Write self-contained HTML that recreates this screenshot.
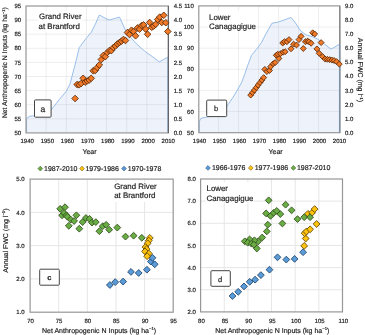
<!DOCTYPE html>
<html><head><meta charset="utf-8"><title>Figure</title>
<style>
html,body{margin:0;padding:0;background:#fff;width:365px;height:335px;overflow:hidden}
svg{display:block;font-family:"Liberation Sans", sans-serif;will-change:transform;text-rendering:geometricPrecision}
text{stroke:#222;stroke-width:0.18px}
</style></head><body>
<svg width="365" height="335" viewBox="0 0 365 335">
<rect width="365" height="335" fill="#fff"/>
<polygon points="26.60,132.40 26.60,118.30 29.50,116.30 33.50,115.80 40.00,114.00 46.00,112.00 51.50,109.50 59.10,99.70 66.30,91.30 69.90,84.20 74.70,66.30 79.30,47.50 86.10,38.40 91.30,32.20 95.50,23.80 99.30,15.00 103.90,17.50 109.10,20.00 114.30,18.60 119.50,17.10 124.90,29.00 129.80,36.40 136.40,43.80 144.60,51.10 152.80,56.90 159.30,61.80 167.80,57.20 167.80,132.40" fill="#eef3fb" stroke="none"/>
<line x1="26.00" y1="118.80" x2="168.40" y2="118.80" stroke="rgba(0,0,0,0.065)" stroke-width="1"/>
<line x1="26.00" y1="104.70" x2="168.40" y2="104.70" stroke="rgba(0,0,0,0.065)" stroke-width="1"/>
<line x1="26.00" y1="90.60" x2="168.40" y2="90.60" stroke="rgba(0,0,0,0.065)" stroke-width="1"/>
<line x1="26.00" y1="76.50" x2="168.40" y2="76.50" stroke="rgba(0,0,0,0.065)" stroke-width="1"/>
<line x1="26.00" y1="62.40" x2="168.40" y2="62.40" stroke="rgba(0,0,0,0.065)" stroke-width="1"/>
<line x1="26.00" y1="48.30" x2="168.40" y2="48.30" stroke="rgba(0,0,0,0.065)" stroke-width="1"/>
<line x1="26.00" y1="34.20" x2="168.40" y2="34.20" stroke="rgba(0,0,0,0.065)" stroke-width="1"/>
<line x1="26.00" y1="20.10" x2="168.40" y2="20.10" stroke="rgba(0,0,0,0.065)" stroke-width="1"/>
<line x1="46.15" y1="6.00" x2="46.15" y2="132.90" stroke="rgba(0,0,0,0.065)" stroke-width="1"/>
<line x1="66.30" y1="6.00" x2="66.30" y2="132.90" stroke="rgba(0,0,0,0.065)" stroke-width="1"/>
<line x1="86.45" y1="6.00" x2="86.45" y2="132.90" stroke="rgba(0,0,0,0.065)" stroke-width="1"/>
<line x1="106.60" y1="6.00" x2="106.60" y2="132.90" stroke="rgba(0,0,0,0.065)" stroke-width="1"/>
<line x1="126.75" y1="6.00" x2="126.75" y2="132.90" stroke="rgba(0,0,0,0.065)" stroke-width="1"/>
<line x1="146.90" y1="6.00" x2="146.90" y2="132.90" stroke="rgba(0,0,0,0.065)" stroke-width="1"/>
<polyline points="26.60,132.40 26.60,118.30 29.50,116.30 33.50,115.80 40.00,114.00 46.00,112.00 51.50,109.50 59.10,99.70 66.30,91.30 69.90,84.20 74.70,66.30 79.30,47.50 86.10,38.40 91.30,32.20 95.50,23.80 99.30,15.00 103.90,17.50 109.10,20.00 114.30,18.60 119.50,17.10 124.90,29.00 129.80,36.40 136.40,43.80 144.60,51.10 152.80,56.90 159.30,61.80 167.80,57.20 167.80,132.40" fill="none" stroke="#8fb8e6" stroke-width="0.9"/>
<rect x="37.5" y="11.2" width="45.1" height="20.2" fill="#fff"/>
<rect x="26.00" y="6.00" width="142.40" height="126.90" fill="none" stroke="#979797" stroke-width="1.2"/>
<line x1="168.40" y1="6.00" x2="168.40" y2="132.90" stroke="#62666b" stroke-width="1.2"/>
<text x="21.20" y="8.15" font-size="6" text-anchor="end" fill="#1a1a1a" >95</text>
<text x="173.70" y="8.15" font-size="6" text-anchor="start" fill="#1a1a1a" >4.5</text>
<text x="21.20" y="22.25" font-size="6" text-anchor="end" fill="#1a1a1a" >90</text>
<text x="173.70" y="22.25" font-size="6" text-anchor="start" fill="#1a1a1a" >4.0</text>
<text x="21.20" y="36.35" font-size="6" text-anchor="end" fill="#1a1a1a" >85</text>
<text x="173.70" y="36.35" font-size="6" text-anchor="start" fill="#1a1a1a" >3.5</text>
<text x="21.20" y="50.45" font-size="6" text-anchor="end" fill="#1a1a1a" >80</text>
<text x="173.70" y="50.45" font-size="6" text-anchor="start" fill="#1a1a1a" >3.0</text>
<text x="21.20" y="64.55" font-size="6" text-anchor="end" fill="#1a1a1a" >75</text>
<text x="173.70" y="64.55" font-size="6" text-anchor="start" fill="#1a1a1a" >2.5</text>
<text x="21.20" y="78.65" font-size="6" text-anchor="end" fill="#1a1a1a" >70</text>
<text x="173.70" y="78.65" font-size="6" text-anchor="start" fill="#1a1a1a" >2.0</text>
<text x="21.20" y="92.75" font-size="6" text-anchor="end" fill="#1a1a1a" >65</text>
<text x="173.70" y="92.75" font-size="6" text-anchor="start" fill="#1a1a1a" >1.5</text>
<text x="21.20" y="106.85" font-size="6" text-anchor="end" fill="#1a1a1a" >60</text>
<text x="173.70" y="106.85" font-size="6" text-anchor="start" fill="#1a1a1a" >1.0</text>
<text x="21.20" y="120.95" font-size="6" text-anchor="end" fill="#1a1a1a" >55</text>
<text x="173.70" y="120.95" font-size="6" text-anchor="start" fill="#1a1a1a" >0.5</text>
<text x="21.20" y="135.05" font-size="6" text-anchor="end" fill="#1a1a1a" >50</text>
<text x="173.70" y="135.05" font-size="6" text-anchor="start" fill="#1a1a1a" >0.0</text>
<text x="27.20" y="142.95" font-size="6" text-anchor="middle" fill="#1a1a1a" >1940</text>
<text x="47.35" y="142.95" font-size="6" text-anchor="middle" fill="#1a1a1a" >1950</text>
<text x="67.50" y="142.95" font-size="6" text-anchor="middle" fill="#1a1a1a" >1960</text>
<text x="87.65" y="142.95" font-size="6" text-anchor="middle" fill="#1a1a1a" >1970</text>
<text x="107.80" y="142.95" font-size="6" text-anchor="middle" fill="#1a1a1a" >1980</text>
<text x="127.95" y="142.95" font-size="6" text-anchor="middle" fill="#1a1a1a" >1990</text>
<text x="148.10" y="142.95" font-size="6" text-anchor="middle" fill="#1a1a1a" >2000</text>
<text x="168.25" y="142.95" font-size="6" text-anchor="middle" fill="#1a1a1a" >2010</text>
<text x="89.50" y="154.00" font-size="7" text-anchor="middle" fill="#1a1a1a" >Year</text>
<text transform="translate(7.3,118.1) rotate(-90)" font-size="6.8" fill="#1a1a1a">Net Anthropogenic N Inputs (kg ha<tspan font-size="4.1" dy="-2.5">−1</tspan><tspan dy="2.5">)</tspan></text>
<text x="39.00" y="19.20" font-size="7.9" text-anchor="start" fill="#1a1a1a" >Grand River</text>
<text x="38.60" y="28.50" font-size="7.9" text-anchor="start" fill="#1a1a1a" >at Brantford</text>
<rect x="34.5" y="99.9" width="16.6" height="17.3" rx="1" fill="#fff" stroke="#444444" stroke-width="1"/>
<text x="42.90" y="111.70" font-size="8.5" text-anchor="middle" fill="#1a1a1a" >a</text>
<path d="M75.10 95.20L78.40 98.50L75.10 101.80L71.80 98.50Z" fill="#f07a28" stroke="#5a2806" stroke-width="0.85"/>
<path d="M77.11 81.20L80.41 84.50L77.11 87.80L73.81 84.50Z" fill="#f07a28" stroke="#5a2806" stroke-width="0.85"/>
<path d="M79.13 81.50L82.43 84.80L79.13 88.10L75.83 84.80Z" fill="#f07a28" stroke="#5a2806" stroke-width="0.85"/>
<path d="M81.14 80.20L84.44 83.50L81.14 86.80L77.84 83.50Z" fill="#f07a28" stroke="#5a2806" stroke-width="0.85"/>
<path d="M83.16 75.00L86.46 78.30L83.16 81.60L79.86 78.30Z" fill="#f07a28" stroke="#5a2806" stroke-width="0.85"/>
<path d="M85.17 78.80L88.47 82.10L85.17 85.40L81.88 82.10Z" fill="#f07a28" stroke="#5a2806" stroke-width="0.85"/>
<path d="M87.19 77.70L90.49 81.00L87.19 84.30L83.89 81.00Z" fill="#f07a28" stroke="#5a2806" stroke-width="0.85"/>
<path d="M89.20 76.70L92.50 80.00L89.20 83.30L85.91 80.00Z" fill="#f07a28" stroke="#5a2806" stroke-width="0.85"/>
<path d="M91.22 75.00L94.52 78.30L91.22 81.60L87.92 78.30Z" fill="#f07a28" stroke="#5a2806" stroke-width="0.85"/>
<path d="M93.23 67.50L96.53 70.80L93.23 74.10L89.94 70.80Z" fill="#f07a28" stroke="#5a2806" stroke-width="0.85"/>
<path d="M95.25 67.20L98.55 70.50L95.25 73.80L91.95 70.50Z" fill="#f07a28" stroke="#5a2806" stroke-width="0.85"/>
<path d="M97.27 64.20L100.56 67.50L97.27 70.80L93.97 67.50Z" fill="#f07a28" stroke="#5a2806" stroke-width="0.85"/>
<path d="M99.28 61.70L102.58 65.00L99.28 68.30L95.98 65.00Z" fill="#f07a28" stroke="#5a2806" stroke-width="0.85"/>
<path d="M101.29 56.20L104.59 59.50L101.29 62.80L97.99 59.50Z" fill="#f07a28" stroke="#5a2806" stroke-width="0.85"/>
<path d="M103.31 52.20L106.61 55.50L103.31 58.80L100.01 55.50Z" fill="#f07a28" stroke="#5a2806" stroke-width="0.85"/>
<path d="M105.32 53.30L108.62 56.60L105.32 59.90L102.02 56.60Z" fill="#f07a28" stroke="#5a2806" stroke-width="0.85"/>
<path d="M107.34 49.20L110.64 52.50L107.34 55.80L104.04 52.50Z" fill="#f07a28" stroke="#5a2806" stroke-width="0.85"/>
<path d="M109.35 47.30L112.65 50.60L109.35 53.90L106.05 50.60Z" fill="#f07a28" stroke="#5a2806" stroke-width="0.85"/>
<path d="M111.37 47.30L114.67 50.60L111.37 53.90L108.07 50.60Z" fill="#f07a28" stroke="#5a2806" stroke-width="0.85"/>
<path d="M113.38 44.20L116.68 47.50L113.38 50.80L110.08 47.50Z" fill="#f07a28" stroke="#5a2806" stroke-width="0.85"/>
<path d="M115.40 42.70L118.70 46.00L115.40 49.30L112.10 46.00Z" fill="#f07a28" stroke="#5a2806" stroke-width="0.85"/>
<path d="M117.41 40.70L120.71 44.00L117.41 47.30L114.11 44.00Z" fill="#f07a28" stroke="#5a2806" stroke-width="0.85"/>
<path d="M119.43 39.20L122.73 42.50L119.43 45.80L116.13 42.50Z" fill="#f07a28" stroke="#5a2806" stroke-width="0.85"/>
<path d="M121.44 37.90L124.74 41.20L121.44 44.50L118.14 41.20Z" fill="#f07a28" stroke="#5a2806" stroke-width="0.85"/>
<path d="M123.46 36.20L126.76 39.50L123.46 42.80L120.16 39.50Z" fill="#f07a28" stroke="#5a2806" stroke-width="0.85"/>
<path d="M125.47 37.20L128.78 40.50L125.47 43.80L122.17 40.50Z" fill="#f07a28" stroke="#5a2806" stroke-width="0.85"/>
<path d="M127.49 29.20L130.79 32.50L127.49 35.80L124.19 32.50Z" fill="#f07a28" stroke="#5a2806" stroke-width="0.85"/>
<path d="M129.50 31.20L132.81 34.50L129.50 37.80L126.20 34.50Z" fill="#f07a28" stroke="#5a2806" stroke-width="0.85"/>
<path d="M131.52 26.90L134.82 30.20L131.52 33.50L128.22 30.20Z" fill="#f07a28" stroke="#5a2806" stroke-width="0.85"/>
<path d="M133.53 28.20L136.84 31.50L133.53 34.80L130.23 31.50Z" fill="#f07a28" stroke="#5a2806" stroke-width="0.85"/>
<path d="M135.55 32.50L138.85 35.80L135.55 39.10L132.25 35.80Z" fill="#f07a28" stroke="#5a2806" stroke-width="0.85"/>
<path d="M137.56 24.60L140.87 27.90L137.56 31.20L134.26 27.90Z" fill="#f07a28" stroke="#5a2806" stroke-width="0.85"/>
<path d="M139.58 25.80L142.88 29.10L139.58 32.40L136.28 29.10Z" fill="#f07a28" stroke="#5a2806" stroke-width="0.85"/>
<path d="M141.59 22.20L144.90 25.50L141.59 28.80L138.29 25.50Z" fill="#f07a28" stroke="#5a2806" stroke-width="0.85"/>
<path d="M143.61 21.60L146.91 24.90L143.61 28.20L140.31 24.90Z" fill="#f07a28" stroke="#5a2806" stroke-width="0.85"/>
<path d="M145.62 25.80L148.93 29.10L145.62 32.40L142.32 29.10Z" fill="#f07a28" stroke="#5a2806" stroke-width="0.85"/>
<path d="M147.64 31.00L150.94 34.30L147.64 37.60L144.34 34.30Z" fill="#f07a28" stroke="#5a2806" stroke-width="0.85"/>
<path d="M149.66 19.20L152.96 22.50L149.66 25.80L146.35 22.50Z" fill="#f07a28" stroke="#5a2806" stroke-width="0.85"/>
<path d="M151.67 24.00L154.97 27.30L151.67 30.60L148.37 27.30Z" fill="#f07a28" stroke="#5a2806" stroke-width="0.85"/>
<path d="M153.69 22.80L156.99 26.10L153.69 29.40L150.38 26.10Z" fill="#f07a28" stroke="#5a2806" stroke-width="0.85"/>
<path d="M155.70 21.00L159.00 24.30L155.70 27.60L152.40 24.30Z" fill="#f07a28" stroke="#5a2806" stroke-width="0.85"/>
<path d="M157.72 16.20L161.02 19.50L157.72 22.80L154.41 19.50Z" fill="#f07a28" stroke="#5a2806" stroke-width="0.85"/>
<path d="M159.73 13.80L163.03 17.10L159.73 20.40L156.43 17.10Z" fill="#f07a28" stroke="#5a2806" stroke-width="0.85"/>
<path d="M161.75 19.20L165.05 22.50L161.75 25.80L158.44 22.50Z" fill="#f07a28" stroke="#5a2806" stroke-width="0.85"/>
<path d="M163.76 12.00L167.06 15.30L163.76 18.60L160.46 15.30Z" fill="#f07a28" stroke="#5a2806" stroke-width="0.85"/>
<path d="M165.78 19.40L169.08 22.70L165.78 26.00L162.47 22.70Z" fill="#f07a28" stroke="#5a2806" stroke-width="0.85"/>
<path d="M167.79 28.20L171.09 31.50L167.79 34.80L164.49 31.50Z" fill="#f07a28" stroke="#5a2806" stroke-width="0.85"/>
<polygon points="199.30,132.40 199.30,121.50 200.90,118.30 205.80,117.30 212.00,115.80 219.00,113.80 226.70,106.60 232.00,98.80 236.80,91.10 241.70,82.30 244.60,74.60 247.50,65.80 251.60,55.20 256.10,49.80 261.50,42.60 266.00,33.70 271.90,23.30 278.50,22.00 284.80,19.70 291.00,17.50 294.80,22.00 300.80,31.10 306.10,34.90 312.90,36.80 318.10,39.40 324.20,43.90 331.00,49.20 339.40,44.30 339.40,132.40" fill="#eef3fb" stroke="none"/>
<line x1="198.80" y1="111.57" x2="339.80" y2="111.57" stroke="rgba(0,0,0,0.065)" stroke-width="1"/>
<line x1="198.80" y1="90.43" x2="339.80" y2="90.43" stroke="rgba(0,0,0,0.065)" stroke-width="1"/>
<line x1="198.80" y1="69.30" x2="339.80" y2="69.30" stroke="rgba(0,0,0,0.065)" stroke-width="1"/>
<line x1="198.80" y1="48.17" x2="339.80" y2="48.17" stroke="rgba(0,0,0,0.065)" stroke-width="1"/>
<line x1="198.80" y1="27.03" x2="339.80" y2="27.03" stroke="rgba(0,0,0,0.065)" stroke-width="1"/>
<line x1="218.60" y1="5.90" x2="218.60" y2="132.70" stroke="rgba(0,0,0,0.065)" stroke-width="1"/>
<line x1="238.60" y1="5.90" x2="238.60" y2="132.70" stroke="rgba(0,0,0,0.065)" stroke-width="1"/>
<line x1="258.60" y1="5.90" x2="258.60" y2="132.70" stroke="rgba(0,0,0,0.065)" stroke-width="1"/>
<line x1="278.60" y1="5.90" x2="278.60" y2="132.70" stroke="rgba(0,0,0,0.065)" stroke-width="1"/>
<line x1="298.60" y1="5.90" x2="298.60" y2="132.70" stroke="rgba(0,0,0,0.065)" stroke-width="1"/>
<line x1="318.60" y1="5.90" x2="318.60" y2="132.70" stroke="rgba(0,0,0,0.065)" stroke-width="1"/>
<polyline points="199.30,132.40 199.30,121.50 200.90,118.30 205.80,117.30 212.00,115.80 219.00,113.80 226.70,106.60 232.00,98.80 236.80,91.10 241.70,82.30 244.60,74.60 247.50,65.80 251.60,55.20 256.10,49.80 261.50,42.60 266.00,33.70 271.90,23.30 278.50,22.00 284.80,19.70 291.00,17.50 294.80,22.00 300.80,31.10 306.10,34.90 312.90,36.80 318.10,39.40 324.20,43.90 331.00,49.20 339.40,44.30 339.40,132.40" fill="none" stroke="#8fb8e6" stroke-width="0.9"/>
<rect x="207.6" y="11.2" width="48.9" height="20.2" fill="#fff"/>
<rect x="198.80" y="5.90" width="141.00" height="126.80" fill="none" stroke="#979797" stroke-width="1.2"/>
<line x1="339.80" y1="5.90" x2="339.80" y2="132.70" stroke="#858585" stroke-width="1.2"/>
<line x1="339.60" y1="44.30" x2="339.60" y2="132.70" stroke="#7b93b3" stroke-width="0.9"/>
<text x="193.80" y="8.05" font-size="6" text-anchor="end" fill="#1a1a1a" >110</text>
<text x="193.80" y="29.18" font-size="6" text-anchor="end" fill="#1a1a1a" >100</text>
<text x="193.80" y="50.31" font-size="6" text-anchor="end" fill="#1a1a1a" >90</text>
<text x="193.80" y="71.45" font-size="6" text-anchor="end" fill="#1a1a1a" >80</text>
<text x="193.80" y="92.58" font-size="6" text-anchor="end" fill="#1a1a1a" >70</text>
<text x="193.80" y="113.71" font-size="6" text-anchor="end" fill="#1a1a1a" >60</text>
<text x="193.80" y="134.85" font-size="6" text-anchor="end" fill="#1a1a1a" >50</text>
<text x="344.90" y="8.05" font-size="6" text-anchor="start" fill="#1a1a1a" >9.0</text>
<text x="344.90" y="22.14" font-size="6" text-anchor="start" fill="#1a1a1a" >8.0</text>
<text x="344.90" y="36.23" font-size="6" text-anchor="start" fill="#1a1a1a" >7.0</text>
<text x="344.90" y="50.31" font-size="6" text-anchor="start" fill="#1a1a1a" >6.0</text>
<text x="344.90" y="64.40" font-size="6" text-anchor="start" fill="#1a1a1a" >5.0</text>
<text x="344.90" y="78.49" font-size="6" text-anchor="start" fill="#1a1a1a" >4.0</text>
<text x="344.90" y="92.58" font-size="6" text-anchor="start" fill="#1a1a1a" >3.0</text>
<text x="344.90" y="106.67" font-size="6" text-anchor="start" fill="#1a1a1a" >2.0</text>
<text x="344.90" y="120.76" font-size="6" text-anchor="start" fill="#1a1a1a" >1.0</text>
<text x="344.90" y="134.85" font-size="6" text-anchor="start" fill="#1a1a1a" >0.0</text>
<text x="199.50" y="142.95" font-size="6" text-anchor="middle" fill="#1a1a1a" >1940</text>
<text x="219.50" y="142.95" font-size="6" text-anchor="middle" fill="#1a1a1a" >1950</text>
<text x="239.50" y="142.95" font-size="6" text-anchor="middle" fill="#1a1a1a" >1960</text>
<text x="259.50" y="142.95" font-size="6" text-anchor="middle" fill="#1a1a1a" >1970</text>
<text x="279.50" y="142.95" font-size="6" text-anchor="middle" fill="#1a1a1a" >1980</text>
<text x="299.50" y="142.95" font-size="6" text-anchor="middle" fill="#1a1a1a" >1990</text>
<text x="319.50" y="142.95" font-size="6" text-anchor="middle" fill="#1a1a1a" >2000</text>
<text x="339.50" y="142.95" font-size="6" text-anchor="middle" fill="#1a1a1a" >2010</text>
<text x="275.60" y="154.00" font-size="7" text-anchor="middle" fill="#1a1a1a" >Year</text>
<text transform="translate(357.6,37.8) rotate(90)" font-size="7" fill="#1a1a1a">Annual FWC (mg l<tspan font-size="4.2" dy="-2.6">−1</tspan><tspan dy="2.6">)</tspan></text>
<text x="209.00" y="19.50" font-size="7.9" text-anchor="start" fill="#1a1a1a" >Lower</text>
<text x="209.00" y="29.00" font-size="7.9" text-anchor="start" fill="#1a1a1a" >Canagagigue</text>
<rect x="206.7" y="100.1" width="20.0" height="16.5" rx="1" fill="#fff" stroke="#444444" stroke-width="1"/>
<text x="216.10" y="111.20" font-size="7.5" text-anchor="middle" fill="#1a1a1a" >b</text>
<path d="M250.70 92.15L253.65 95.10L250.70 98.05L247.75 95.10Z" fill="#f07a28" stroke="#5a2806" stroke-width="0.85"/>
<path d="M252.60 89.65L255.55 92.60L252.60 95.55L249.65 92.60Z" fill="#f07a28" stroke="#5a2806" stroke-width="0.85"/>
<path d="M254.40 87.15L257.35 90.10L254.40 93.05L251.45 90.10Z" fill="#f07a28" stroke="#5a2806" stroke-width="0.85"/>
<path d="M256.30 84.65L259.25 87.60L256.30 90.55L253.35 87.60Z" fill="#f07a28" stroke="#5a2806" stroke-width="0.85"/>
<path d="M258.10 82.15L261.05 85.10L258.10 88.05L255.15 85.10Z" fill="#f07a28" stroke="#5a2806" stroke-width="0.85"/>
<path d="M260.00 79.65L262.95 82.60L260.00 85.55L257.05 82.60Z" fill="#f07a28" stroke="#5a2806" stroke-width="0.85"/>
<path d="M261.90 77.15L264.85 80.10L261.90 83.05L258.95 80.10Z" fill="#f07a28" stroke="#5a2806" stroke-width="0.85"/>
<path d="M263.70 74.65L266.65 77.60L263.70 80.55L260.75 77.60Z" fill="#f07a28" stroke="#5a2806" stroke-width="0.85"/>
<path d="M264.80 66.45L267.75 69.40L264.80 72.35L261.85 69.40Z" fill="#f07a28" stroke="#5a2806" stroke-width="0.85"/>
<path d="M266.90 68.55L269.85 71.50L266.90 74.45L263.95 71.50Z" fill="#f07a28" stroke="#5a2806" stroke-width="0.85"/>
<path d="M269.50 67.55L272.45 70.50L269.50 73.45L266.55 70.50Z" fill="#f07a28" stroke="#5a2806" stroke-width="0.85"/>
<path d="M270.50 63.85L273.45 66.80L270.50 69.75L267.55 66.80Z" fill="#f07a28" stroke="#5a2806" stroke-width="0.85"/>
<path d="M273.20 60.75L276.15 63.70L273.20 66.65L270.25 63.70Z" fill="#f07a28" stroke="#5a2806" stroke-width="0.85"/>
<path d="M275.20 59.65L278.15 62.60L275.20 65.55L272.25 62.60Z" fill="#f07a28" stroke="#5a2806" stroke-width="0.85"/>
<path d="M276.30 52.35L279.25 55.30L276.30 58.25L273.35 55.30Z" fill="#f07a28" stroke="#5a2806" stroke-width="0.85"/>
<path d="M278.90 55.55L281.85 58.50L278.90 61.45L275.95 58.50Z" fill="#f07a28" stroke="#5a2806" stroke-width="0.85"/>
<path d="M277.70 51.25L280.65 54.20L277.70 57.15L274.75 54.20Z" fill="#f07a28" stroke="#5a2806" stroke-width="0.85"/>
<path d="M280.50 50.75L283.45 53.70L280.50 56.65L277.55 53.70Z" fill="#f07a28" stroke="#5a2806" stroke-width="0.85"/>
<path d="M283.10 49.25L286.05 52.20L283.10 55.15L280.15 52.20Z" fill="#f07a28" stroke="#5a2806" stroke-width="0.85"/>
<path d="M285.20 48.75L288.15 51.70L285.20 54.65L282.25 51.70Z" fill="#f07a28" stroke="#5a2806" stroke-width="0.85"/>
<path d="M291.00 45.85L293.95 48.80L291.00 51.75L288.05 48.80Z" fill="#f07a28" stroke="#5a2806" stroke-width="0.85"/>
<path d="M282.70 40.05L285.65 43.00L282.70 45.95L279.75 43.00Z" fill="#f07a28" stroke="#5a2806" stroke-width="0.85"/>
<path d="M284.40 38.75L287.35 41.70L284.40 44.65L281.45 41.70Z" fill="#f07a28" stroke="#5a2806" stroke-width="0.85"/>
<path d="M286.90 38.75L289.85 41.70L286.90 44.65L283.95 41.70Z" fill="#f07a28" stroke="#5a2806" stroke-width="0.85"/>
<path d="M289.00 36.65L291.95 39.60L289.00 42.55L286.05 39.60Z" fill="#f07a28" stroke="#5a2806" stroke-width="0.85"/>
<path d="M293.60 41.25L296.55 44.20L293.60 47.15L290.65 44.20Z" fill="#f07a28" stroke="#5a2806" stroke-width="0.85"/>
<path d="M296.50 42.05L299.45 45.00L296.50 47.95L293.55 45.00Z" fill="#f07a28" stroke="#5a2806" stroke-width="0.85"/>
<path d="M299.00 36.65L301.95 39.60L299.00 42.55L296.05 39.60Z" fill="#f07a28" stroke="#5a2806" stroke-width="0.85"/>
<path d="M301.10 33.35L304.05 36.30L301.10 39.25L298.15 36.30Z" fill="#f07a28" stroke="#5a2806" stroke-width="0.85"/>
<path d="M303.30 45.55L306.25 48.50L303.30 51.45L300.35 48.50Z" fill="#f07a28" stroke="#5a2806" stroke-width="0.85"/>
<path d="M305.40 38.75L308.35 41.70L305.40 44.65L302.45 41.70Z" fill="#f07a28" stroke="#5a2806" stroke-width="0.85"/>
<path d="M307.50 38.25L310.45 41.20L307.50 44.15L304.55 41.20Z" fill="#f07a28" stroke="#5a2806" stroke-width="0.85"/>
<path d="M309.00 38.75L311.95 41.70L309.00 44.65L306.05 41.70Z" fill="#f07a28" stroke="#5a2806" stroke-width="0.85"/>
<path d="M311.10 40.35L314.05 43.30L311.10 46.25L308.15 43.30Z" fill="#f07a28" stroke="#5a2806" stroke-width="0.85"/>
<path d="M312.70 29.85L315.65 32.80L312.70 35.75L309.75 32.80Z" fill="#f07a28" stroke="#5a2806" stroke-width="0.85"/>
<path d="M314.70 31.05L317.65 34.00L314.70 36.95L311.75 34.00Z" fill="#f07a28" stroke="#5a2806" stroke-width="0.85"/>
<path d="M321.10 39.65L324.05 42.60L321.10 45.55L318.15 42.60Z" fill="#f07a28" stroke="#5a2806" stroke-width="0.85"/>
<path d="M316.90 45.95L319.85 48.90L316.90 51.85L313.95 48.90Z" fill="#f07a28" stroke="#5a2806" stroke-width="0.85"/>
<path d="M319.20 50.35L322.15 53.30L319.20 56.25L316.25 53.30Z" fill="#f07a28" stroke="#5a2806" stroke-width="0.85"/>
<path d="M322.60 53.65L325.55 56.60L322.60 59.55L319.65 56.60Z" fill="#f07a28" stroke="#5a2806" stroke-width="0.85"/>
<path d="M325.10 56.05L328.05 59.00L325.10 61.95L322.15 59.00Z" fill="#f07a28" stroke="#5a2806" stroke-width="0.85"/>
<path d="M327.40 56.35L330.35 59.30L327.40 62.25L324.45 59.30Z" fill="#f07a28" stroke="#5a2806" stroke-width="0.85"/>
<path d="M329.60 56.65L332.55 59.60L329.60 62.55L326.65 59.60Z" fill="#f07a28" stroke="#5a2806" stroke-width="0.85"/>
<path d="M331.90 57.15L334.85 60.10L331.90 63.05L328.95 60.10Z" fill="#f07a28" stroke="#5a2806" stroke-width="0.85"/>
<path d="M334.10 57.55L337.05 60.50L334.10 63.45L331.15 60.50Z" fill="#f07a28" stroke="#5a2806" stroke-width="0.85"/>
<path d="M336.60 58.65L339.55 61.60L336.60 64.55L333.65 61.60Z" fill="#f07a28" stroke="#5a2806" stroke-width="0.85"/>
<path d="M339.30 61.15L342.25 64.10L339.30 67.05L336.35 64.10Z" fill="#f07a28" stroke="#5a2806" stroke-width="0.85"/>
<line x1="30.10" y1="278.93" x2="173.20" y2="278.93" stroke="#e6e6e6" stroke-width="1"/>
<line x1="30.10" y1="245.65" x2="173.20" y2="245.65" stroke="#e6e6e6" stroke-width="1"/>
<line x1="30.10" y1="212.38" x2="173.20" y2="212.38" stroke="#e6e6e6" stroke-width="1"/>
<line x1="58.72" y1="179.10" x2="58.72" y2="312.20" stroke="#e6e6e6" stroke-width="1"/>
<line x1="87.34" y1="179.10" x2="87.34" y2="312.20" stroke="#e6e6e6" stroke-width="1"/>
<line x1="115.96" y1="179.10" x2="115.96" y2="312.20" stroke="#e6e6e6" stroke-width="1"/>
<line x1="144.58" y1="179.10" x2="144.58" y2="312.20" stroke="#e6e6e6" stroke-width="1"/>
<rect x="112" y="182.3" width="48" height="19.7" fill="#fff"/>
<rect x="30.10" y="179.10" width="143.10" height="133.10" fill="none" stroke="#979797" stroke-width="1.2"/>
<text x="24.70" y="181.25" font-size="6" text-anchor="end" fill="#1a1a1a" >5.0</text>
<text x="24.70" y="214.52" font-size="6" text-anchor="end" fill="#1a1a1a" >4.0</text>
<text x="24.70" y="247.80" font-size="6" text-anchor="end" fill="#1a1a1a" >3.0</text>
<text x="24.70" y="281.07" font-size="6" text-anchor="end" fill="#1a1a1a" >2.0</text>
<text x="24.70" y="314.35" font-size="6" text-anchor="end" fill="#1a1a1a" >1.0</text>
<text x="30.50" y="322.65" font-size="6" text-anchor="middle" fill="#1a1a1a" >70</text>
<text x="59.12" y="322.65" font-size="6" text-anchor="middle" fill="#1a1a1a" >75</text>
<text x="87.74" y="322.65" font-size="6" text-anchor="middle" fill="#1a1a1a" >80</text>
<text x="116.36" y="322.65" font-size="6" text-anchor="middle" fill="#1a1a1a" >85</text>
<text x="144.98" y="322.65" font-size="6" text-anchor="middle" fill="#1a1a1a" >90</text>
<text x="173.60" y="322.65" font-size="6" text-anchor="middle" fill="#1a1a1a" >95</text>
<text x="42.0" y="333.0" font-size="7" fill="#1a1a1a">Net Anthropogenic N Inputs (kg ha<tspan font-size="4.2" dy="-2.6">−1</tspan><tspan dy="2.6">)</tspan></text>
<text transform="translate(7.6,272.8) rotate(-90)" font-size="7" fill="#1a1a1a">Annual FWC (mg l<tspan font-size="4.2" dy="-2.6">−1</tspan><tspan dy="2.6">)</tspan></text>
<text x="114.20" y="189.20" font-size="7.9" text-anchor="start" fill="#1a1a1a" >Grand River</text>
<text x="114.20" y="198.40" font-size="7.9" text-anchor="start" fill="#1a1a1a" >at Brantford</text>
<rect x="39.7" y="269.2" width="19.6" height="16.0" rx="1" fill="#fff" stroke="#444444" stroke-width="1"/>
<text x="49.40" y="280.10" font-size="7.5" text-anchor="middle" fill="#1a1a1a" font-weight="bold">c</text>
<path d="M40.30 166.20L42.70 168.60L40.30 171.00L37.90 168.60Z" fill="#6aad45" stroke="#2e4c1a" stroke-width="0.5"/>
<text x="44.00" y="171.10" font-size="7" text-anchor="start" fill="#1a1a1a" >1987-2010</text>
<path d="M82.00 166.20L84.40 168.60L82.00 171.00L79.60 168.60Z" fill="#ffc20e" stroke="#5e4400" stroke-width="0.5"/>
<text x="85.40" y="171.10" font-size="7" text-anchor="start" fill="#1a1a1a" >1979-1986</text>
<path d="M124.00 166.20L126.40 168.60L124.00 171.00L121.60 168.60Z" fill="#5a9bd8" stroke="#1c4268" stroke-width="0.5"/>
<text x="127.80" y="171.10" font-size="7" text-anchor="start" fill="#1a1a1a" >1970-1978</text>
<path d="M109.90 281.60L113.30 285.00L109.90 288.40L106.50 285.00Z" fill="#5a9bd8" stroke="#1c4268" stroke-width="0.85"/>
<path d="M115.20 278.70L118.60 282.10L115.20 285.50L111.80 282.10Z" fill="#5a9bd8" stroke="#1c4268" stroke-width="0.85"/>
<path d="M123.10 278.20L126.50 281.60L123.10 285.00L119.70 281.60Z" fill="#5a9bd8" stroke="#1c4268" stroke-width="0.85"/>
<path d="M131.00 268.50L134.40 271.90L131.00 275.30L127.60 271.90Z" fill="#5a9bd8" stroke="#1c4268" stroke-width="0.85"/>
<path d="M138.70 269.60L142.10 273.00L138.70 276.40L135.30 273.00Z" fill="#5a9bd8" stroke="#1c4268" stroke-width="0.85"/>
<path d="M146.90 266.30L150.30 269.70L146.90 273.10L143.50 269.70Z" fill="#5a9bd8" stroke="#1c4268" stroke-width="0.85"/>
<path d="M150.90 258.20L154.30 261.60L150.90 265.00L147.50 261.60Z" fill="#5a9bd8" stroke="#1c4268" stroke-width="0.85"/>
<path d="M152.50 254.40L155.90 257.80L152.50 261.20L149.10 257.80Z" fill="#5a9bd8" stroke="#1c4268" stroke-width="0.85"/>
<path d="M154.70 260.90L158.10 264.30L154.70 267.70L151.30 264.30Z" fill="#5a9bd8" stroke="#1c4268" stroke-width="0.85"/>
<path d="M149.80 234.50L153.20 237.90L149.80 241.30L146.40 237.90Z" fill="#ffc20e" stroke="#5e4400" stroke-width="0.85"/>
<path d="M148.80 237.20L152.20 240.60L148.80 244.00L145.40 240.60Z" fill="#ffc20e" stroke="#5e4400" stroke-width="0.85"/>
<path d="M147.70 239.90L151.10 243.30L147.70 246.70L144.30 243.30Z" fill="#ffc20e" stroke="#5e4400" stroke-width="0.85"/>
<path d="M145.50 243.70L148.90 247.10L145.50 250.50L142.10 247.10Z" fill="#ffc20e" stroke="#5e4400" stroke-width="0.85"/>
<path d="M146.60 245.80L150.00 249.20L146.60 252.60L143.20 249.20Z" fill="#ffc20e" stroke="#5e4400" stroke-width="0.85"/>
<path d="M145.00 248.00L148.40 251.40L145.00 254.80L141.60 251.40Z" fill="#ffc20e" stroke="#5e4400" stroke-width="0.85"/>
<path d="M148.80 250.10L152.20 253.50L148.80 256.90L145.40 253.50Z" fill="#ffc20e" stroke="#5e4400" stroke-width="0.85"/>
<path d="M147.10 252.80L150.50 256.20L147.10 259.60L143.70 256.20Z" fill="#ffc20e" stroke="#5e4400" stroke-width="0.85"/>
<path d="M60.20 205.40L63.60 208.80L60.20 212.20L56.80 208.80Z" fill="#6aad45" stroke="#2e4c1a" stroke-width="0.85"/>
<path d="M65.00 203.80L68.40 207.20L65.00 210.60L61.60 207.20Z" fill="#6aad45" stroke="#2e4c1a" stroke-width="0.85"/>
<path d="M62.10 211.90L65.50 215.30L62.10 218.70L58.70 215.30Z" fill="#6aad45" stroke="#2e4c1a" stroke-width="0.85"/>
<path d="M64.00 209.50L67.40 212.90L64.00 216.30L60.60 212.90Z" fill="#6aad45" stroke="#2e4c1a" stroke-width="0.85"/>
<path d="M66.40 211.90L69.80 215.30L66.40 218.70L63.00 215.30Z" fill="#6aad45" stroke="#2e4c1a" stroke-width="0.85"/>
<path d="M67.40 213.30L70.80 216.70L67.40 220.10L64.00 216.70Z" fill="#6aad45" stroke="#2e4c1a" stroke-width="0.85"/>
<path d="M70.70 216.20L74.10 219.60L70.70 223.00L67.30 219.60Z" fill="#6aad45" stroke="#2e4c1a" stroke-width="0.85"/>
<path d="M74.10 217.60L77.50 221.00L74.10 224.40L70.70 221.00Z" fill="#6aad45" stroke="#2e4c1a" stroke-width="0.85"/>
<path d="M76.40 211.90L79.80 215.30L76.40 218.70L73.00 215.30Z" fill="#6aad45" stroke="#2e4c1a" stroke-width="0.85"/>
<path d="M68.80 222.40L72.20 225.80L68.80 229.20L65.40 225.80Z" fill="#6aad45" stroke="#2e4c1a" stroke-width="0.85"/>
<path d="M79.30 225.30L82.70 228.70L79.30 232.10L75.90 228.70Z" fill="#6aad45" stroke="#2e4c1a" stroke-width="0.85"/>
<path d="M82.60 218.70L86.00 222.10L82.60 225.50L79.20 222.10Z" fill="#6aad45" stroke="#2e4c1a" stroke-width="0.85"/>
<path d="M85.90 214.60L89.30 218.00L85.90 221.40L82.50 218.00Z" fill="#6aad45" stroke="#2e4c1a" stroke-width="0.85"/>
<path d="M89.50 215.40L92.90 218.80L89.50 222.20L86.10 218.80Z" fill="#6aad45" stroke="#2e4c1a" stroke-width="0.85"/>
<path d="M92.00 219.20L95.40 222.60L92.00 226.00L88.60 222.60Z" fill="#6aad45" stroke="#2e4c1a" stroke-width="0.85"/>
<path d="M95.80 218.70L99.20 222.10L95.80 225.50L92.40 222.10Z" fill="#6aad45" stroke="#2e4c1a" stroke-width="0.85"/>
<path d="M99.40 227.80L102.80 231.20L99.40 234.60L96.00 231.20Z" fill="#6aad45" stroke="#2e4c1a" stroke-width="0.85"/>
<path d="M102.70 222.80L106.10 226.20L102.70 229.60L99.30 226.20Z" fill="#6aad45" stroke="#2e4c1a" stroke-width="0.85"/>
<path d="M106.10 221.40L109.50 224.80L106.10 228.20L102.70 224.80Z" fill="#6aad45" stroke="#2e4c1a" stroke-width="0.85"/>
<path d="M109.20 226.30L112.60 229.70L109.20 233.10L105.80 229.70Z" fill="#6aad45" stroke="#2e4c1a" stroke-width="0.85"/>
<path d="M117.30 224.20L120.70 227.60L117.30 231.00L113.90 227.60Z" fill="#6aad45" stroke="#2e4c1a" stroke-width="0.85"/>
<path d="M125.50 233.20L128.90 236.60L125.50 240.00L122.10 236.60Z" fill="#6aad45" stroke="#2e4c1a" stroke-width="0.85"/>
<path d="M133.60 232.30L137.00 235.70L133.60 239.10L130.20 235.70Z" fill="#6aad45" stroke="#2e4c1a" stroke-width="0.85"/>
<path d="M141.80 234.40L145.20 237.80L141.80 241.20L138.40 237.80Z" fill="#6aad45" stroke="#2e4c1a" stroke-width="0.85"/>
<line x1="200.60" y1="289.75" x2="342.50" y2="289.75" stroke="#e6e6e6" stroke-width="1"/>
<line x1="200.60" y1="267.60" x2="342.50" y2="267.60" stroke="#e6e6e6" stroke-width="1"/>
<line x1="200.60" y1="245.45" x2="342.50" y2="245.45" stroke="#e6e6e6" stroke-width="1"/>
<line x1="200.60" y1="223.30" x2="342.50" y2="223.30" stroke="#e6e6e6" stroke-width="1"/>
<line x1="200.60" y1="201.15" x2="342.50" y2="201.15" stroke="#e6e6e6" stroke-width="1"/>
<line x1="224.25" y1="179.00" x2="224.25" y2="311.90" stroke="#e6e6e6" stroke-width="1"/>
<line x1="247.90" y1="179.00" x2="247.90" y2="311.90" stroke="#e6e6e6" stroke-width="1"/>
<line x1="271.55" y1="179.00" x2="271.55" y2="311.90" stroke="#e6e6e6" stroke-width="1"/>
<line x1="295.20" y1="179.00" x2="295.20" y2="311.90" stroke="#e6e6e6" stroke-width="1"/>
<line x1="318.85" y1="179.00" x2="318.85" y2="311.90" stroke="#e6e6e6" stroke-width="1"/>
<rect x="205.8" y="182.3" width="48.2" height="19.7" fill="#fff"/>
<rect x="200.60" y="179.00" width="141.90" height="132.90" fill="none" stroke="#979797" stroke-width="1.2"/>
<text x="195.90" y="181.15" font-size="6" text-anchor="end" fill="#1a1a1a" >8.0</text>
<text x="195.90" y="203.30" font-size="6" text-anchor="end" fill="#1a1a1a" >7.0</text>
<text x="195.90" y="225.45" font-size="6" text-anchor="end" fill="#1a1a1a" >6.0</text>
<text x="195.90" y="247.60" font-size="6" text-anchor="end" fill="#1a1a1a" >5.0</text>
<text x="195.90" y="269.75" font-size="6" text-anchor="end" fill="#1a1a1a" >4.0</text>
<text x="195.90" y="291.90" font-size="6" text-anchor="end" fill="#1a1a1a" >3.0</text>
<text x="195.90" y="314.05" font-size="6" text-anchor="end" fill="#1a1a1a" >2.0</text>
<text x="201.40" y="322.65" font-size="6" text-anchor="middle" fill="#1a1a1a" >80</text>
<text x="225.05" y="322.65" font-size="6" text-anchor="middle" fill="#1a1a1a" >85</text>
<text x="248.70" y="322.65" font-size="6" text-anchor="middle" fill="#1a1a1a" >90</text>
<text x="272.35" y="322.65" font-size="6" text-anchor="middle" fill="#1a1a1a" >95</text>
<text x="296.00" y="322.65" font-size="6" text-anchor="middle" fill="#1a1a1a" >100</text>
<text x="319.65" y="322.65" font-size="6" text-anchor="middle" fill="#1a1a1a" >105</text>
<text x="343.30" y="322.65" font-size="6" text-anchor="middle" fill="#1a1a1a" >110</text>
<text x="215.2" y="333.0" font-size="7" fill="#1a1a1a">Net Anthropogenic N Inputs (kg ha<tspan font-size="4.2" dy="-2.6">−1</tspan><tspan dy="2.6">)</tspan></text>
<text x="206.50" y="191.00" font-size="7.9" text-anchor="start" fill="#1a1a1a" >Lower</text>
<text x="206.50" y="200.50" font-size="7.9" text-anchor="start" fill="#1a1a1a" >Canagagigue</text>
<rect x="210.9" y="270.7" width="19.4" height="15.6" rx="1" fill="#fff" stroke="#444444" stroke-width="1"/>
<text x="220.00" y="281.60" font-size="7.5" text-anchor="middle" fill="#1a1a1a" >d</text>
<path d="M208.00 165.50L210.40 167.90L208.00 170.30L205.60 167.90Z" fill="#5a9bd8" stroke="#1c4268" stroke-width="0.5"/>
<text x="211.90" y="170.40" font-size="7" text-anchor="start" fill="#1a1a1a" >1966-1976</text>
<path d="M250.80 165.50L253.20 167.90L250.80 170.30L248.40 167.90Z" fill="#ffc20e" stroke="#5e4400" stroke-width="0.5"/>
<text x="254.70" y="170.40" font-size="7" text-anchor="start" fill="#1a1a1a" >1977-1986</text>
<path d="M293.40 165.50L295.80 167.90L293.40 170.30L291.00 167.90Z" fill="#6aad45" stroke="#2e4c1a" stroke-width="0.5"/>
<text x="296.90" y="170.40" font-size="7" text-anchor="start" fill="#1a1a1a" >1987-2010</text>
<path d="M232.50 292.60L235.90 296.00L232.50 299.40L229.10 296.00Z" fill="#5a9bd8" stroke="#1c4268" stroke-width="0.85"/>
<path d="M238.20 288.40L241.60 291.80L238.20 295.20L234.80 291.80Z" fill="#5a9bd8" stroke="#1c4268" stroke-width="0.85"/>
<path d="M244.00 283.00L247.40 286.40L244.00 289.80L240.60 286.40Z" fill="#5a9bd8" stroke="#1c4268" stroke-width="0.85"/>
<path d="M249.70 278.40L253.10 281.80L249.70 285.20L246.30 281.80Z" fill="#5a9bd8" stroke="#1c4268" stroke-width="0.85"/>
<path d="M255.10 276.30L258.50 279.70L255.10 283.10L251.70 279.70Z" fill="#5a9bd8" stroke="#1c4268" stroke-width="0.85"/>
<path d="M260.90 271.70L264.30 275.10L260.90 278.50L257.50 275.10Z" fill="#5a9bd8" stroke="#1c4268" stroke-width="0.85"/>
<path d="M269.50 266.30L272.90 269.70L269.50 273.10L266.10 269.70Z" fill="#5a9bd8" stroke="#1c4268" stroke-width="0.85"/>
<path d="M277.50 253.90L280.90 257.30L277.50 260.70L274.10 257.30Z" fill="#5a9bd8" stroke="#1c4268" stroke-width="0.85"/>
<path d="M286.30 256.20L289.70 259.60L286.30 263.00L282.90 259.60Z" fill="#5a9bd8" stroke="#1c4268" stroke-width="0.85"/>
<path d="M294.60 255.50L298.00 258.90L294.60 262.30L291.20 258.90Z" fill="#5a9bd8" stroke="#1c4268" stroke-width="0.85"/>
<path d="M303.10 248.80L306.50 252.20L303.10 255.60L299.70 252.20Z" fill="#5a9bd8" stroke="#1c4268" stroke-width="0.85"/>
<path d="M304.20 242.50L307.60 245.90L304.20 249.30L300.80 245.90Z" fill="#ffc20e" stroke="#5e4400" stroke-width="0.85"/>
<path d="M305.70 235.10L309.10 238.50L305.70 241.90L302.30 238.50Z" fill="#ffc20e" stroke="#5e4400" stroke-width="0.85"/>
<path d="M304.60 229.90L308.00 233.30L304.60 236.70L301.20 233.30Z" fill="#ffc20e" stroke="#5e4400" stroke-width="0.85"/>
<path d="M306.40 228.10L309.80 231.50L306.40 234.90L303.00 231.50Z" fill="#ffc20e" stroke="#5e4400" stroke-width="0.85"/>
<path d="M310.10 225.90L313.50 229.30L310.10 232.70L306.70 229.30Z" fill="#ffc20e" stroke="#5e4400" stroke-width="0.85"/>
<path d="M316.60 220.60L320.00 224.00L316.60 227.40L313.20 224.00Z" fill="#ffc20e" stroke="#5e4400" stroke-width="0.85"/>
<path d="M307.90 210.50L311.30 213.90L307.90 217.30L304.50 213.90Z" fill="#ffc20e" stroke="#5e4400" stroke-width="0.85"/>
<path d="M312.10 209.30L315.50 212.70L312.10 216.10L308.70 212.70Z" fill="#ffc20e" stroke="#5e4400" stroke-width="0.85"/>
<path d="M314.60 205.70L318.00 209.10L314.60 212.50L311.20 209.10Z" fill="#ffc20e" stroke="#5e4400" stroke-width="0.85"/>
<path d="M268.70 196.90L272.10 200.30L268.70 203.70L265.30 200.30Z" fill="#6aad45" stroke="#2e4c1a" stroke-width="0.85"/>
<path d="M285.60 201.30L289.00 204.70L285.60 208.10L282.20 204.70Z" fill="#6aad45" stroke="#2e4c1a" stroke-width="0.85"/>
<path d="M291.60 206.90L295.00 210.30L291.60 213.70L288.20 210.30Z" fill="#6aad45" stroke="#2e4c1a" stroke-width="0.85"/>
<path d="M266.10 210.00L269.50 213.40L266.10 216.80L262.70 213.40Z" fill="#6aad45" stroke="#2e4c1a" stroke-width="0.85"/>
<path d="M270.50 212.50L273.90 215.90L270.50 219.30L267.10 215.90Z" fill="#6aad45" stroke="#2e4c1a" stroke-width="0.85"/>
<path d="M273.70 209.40L277.10 212.80L273.70 216.20L270.30 212.80Z" fill="#6aad45" stroke="#2e4c1a" stroke-width="0.85"/>
<path d="M276.80 207.50L280.20 210.90L276.80 214.30L273.40 210.90Z" fill="#6aad45" stroke="#2e4c1a" stroke-width="0.85"/>
<path d="M280.30 210.70L283.70 214.10L280.30 217.50L276.90 214.10Z" fill="#6aad45" stroke="#2e4c1a" stroke-width="0.85"/>
<path d="M282.40 220.10L285.80 223.50L282.40 226.90L279.00 223.50Z" fill="#6aad45" stroke="#2e4c1a" stroke-width="0.85"/>
<path d="M267.80 221.30L271.20 224.70L267.80 228.10L264.40 224.70Z" fill="#6aad45" stroke="#2e4c1a" stroke-width="0.85"/>
<path d="M266.80 228.00L270.20 231.40L266.80 234.80L263.40 231.40Z" fill="#6aad45" stroke="#2e4c1a" stroke-width="0.85"/>
<path d="M262.20 234.10L265.60 237.50L262.20 240.90L258.80 237.50Z" fill="#6aad45" stroke="#2e4c1a" stroke-width="0.85"/>
<path d="M258.20 237.90L261.60 241.30L258.20 244.70L254.80 241.30Z" fill="#6aad45" stroke="#2e4c1a" stroke-width="0.85"/>
<path d="M254.40 236.90L257.80 240.30L254.40 243.70L251.00 240.30Z" fill="#6aad45" stroke="#2e4c1a" stroke-width="0.85"/>
<path d="M249.60 236.00L253.00 239.40L249.60 242.80L246.20 239.40Z" fill="#6aad45" stroke="#2e4c1a" stroke-width="0.85"/>
<path d="M244.80 237.90L248.20 241.30L244.80 244.70L241.40 241.30Z" fill="#6aad45" stroke="#2e4c1a" stroke-width="0.85"/>
<path d="M247.70 239.30L251.10 242.70L247.70 246.10L244.30 242.70Z" fill="#6aad45" stroke="#2e4c1a" stroke-width="0.85"/>
<path d="M251.50 240.30L254.90 243.70L251.50 247.10L248.10 243.70Z" fill="#6aad45" stroke="#2e4c1a" stroke-width="0.85"/>
<path d="M253.90 241.30L257.30 244.70L253.90 248.10L250.50 244.70Z" fill="#6aad45" stroke="#2e4c1a" stroke-width="0.85"/>
<path d="M256.80 245.10L260.20 248.50L256.80 251.90L253.40 248.50Z" fill="#6aad45" stroke="#2e4c1a" stroke-width="0.85"/>
<path d="M297.50 215.70L300.90 219.10L297.50 222.50L294.10 219.10Z" fill="#6aad45" stroke="#2e4c1a" stroke-width="0.85"/>
<path d="M304.20 213.80L307.60 217.20L304.20 220.60L300.80 217.20Z" fill="#6aad45" stroke="#2e4c1a" stroke-width="0.85"/>
<path d="M310.10 213.80L313.50 217.20L310.10 220.60L306.70 217.20Z" fill="#6aad45" stroke="#2e4c1a" stroke-width="0.85"/>
</svg>
</body></html>
